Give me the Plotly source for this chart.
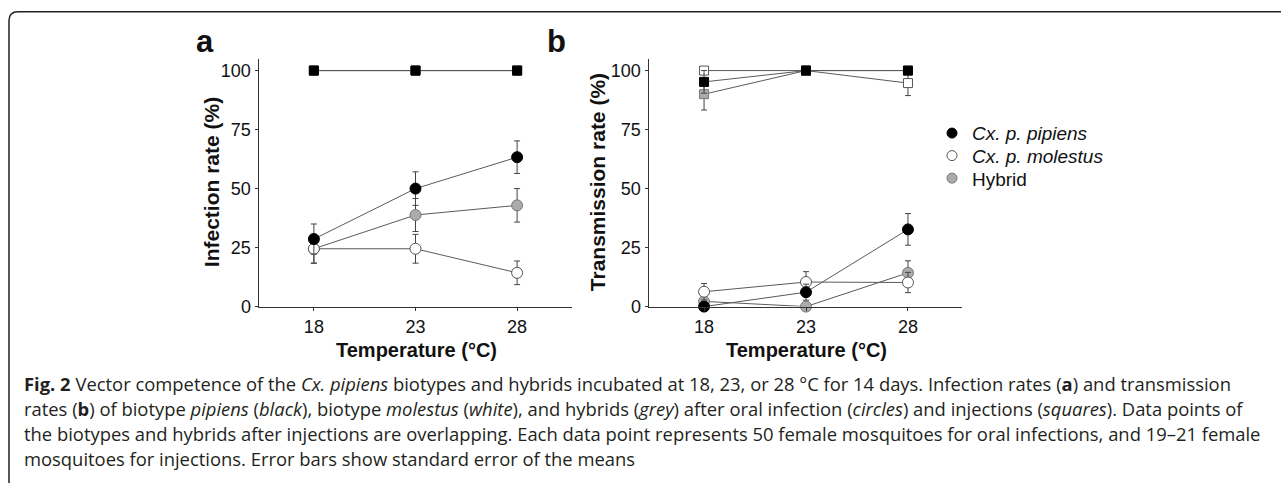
import plotly.graph_objects as go

W, H = 1281, 488

temps = [18, 23, 28]

# Panel a: infection rate (%)
a_inj_pip = [100, 100, 100]
a_inj_mol = [100, 100, 100]
a_inj_hyb = [100, 100, 100]
a_oral_pip = [28.6, 50.0, 63.3]
a_oral_pip_err = [6.4, 7.1, 6.9]
a_oral_mol = [24.5, 24.5, 14.3]
a_oral_mol_err = [6.1, 6.1, 5.0]
a_oral_hyb = [24.5, 38.8, 42.9]
a_oral_hyb_err = [6.1, 7.0, 7.1]

# Panel b: transmission rate (%)
b_inj_pip = [95.2, 100, 100]
b_inj_pip_err = [4.8, 0, 0]
b_inj_mol = [100, 100, 94.7]
b_inj_mol_err = [0, 0, 5.3]
b_inj_hyb = [90.0, 100, 100]
b_inj_hyb_err = [6.7, 0, 0]
b_oral_pip = [0, 6.1, 32.7]
b_oral_pip_err = [0, 3.4, 6.7]
b_oral_mol = [6.3, 10.4, 10.2]
b_oral_mol_err = [3.5, 4.4, 4.3]
b_oral_hyb = [2.2, 0.0, 14.3]
b_oral_hyb_err = [2.2, 0.0, 5.1]

legend_names = ["<i>Cx. p. pipiens</i>", "<i>Cx. p. molestus</i>", "Hybrid"]
x_ticks = ["18", "23", "28"]
y_ticks = [0, 25, 50, 75, 100]

STY = {
    "pip": dict(color="#000000", line=dict(color="#000000", width=1)),
    "mol": dict(color="#ffffff", line=dict(color="#555555", width=1)),
    "hyb": dict(color="#ababab", line=dict(color="#777777", width=1)),
}

LINE = dict(color="#5a5a5a", width=1)
FONT = "Liberation Sans, Arial, sans-serif"


def px(x):
    return x / W


def py(y):
    return 1 - y / H


fig = go.Figure()


def add(y, err, kind, symbol, xa, ya, size):
    ed = None
    if err is not None:
        ed = dict(type="data", array=err, visible=True, color="#444444",
                  thickness=1, width=3)
    fig.add_trace(go.Scatter(
        x=temps, y=y, mode="lines+markers", xaxis=xa, yaxis=ya,
        line=LINE, error_y=ed, cliponaxis=False, showlegend=False,
        hoverinfo="skip",
        marker=dict(symbol=symbol, size=size, **STY[kind])))


SQ, CI = 9, 11
# panel a
add(a_inj_hyb, None, "hyb", "square", "x", "y", SQ)
add(a_inj_mol, None, "mol", "square", "x", "y", SQ)
add(a_inj_pip, None, "pip", "square", "x", "y", SQ)
add(a_oral_hyb, a_oral_hyb_err, "hyb", "circle", "x", "y", CI)
add(a_oral_mol, a_oral_mol_err, "mol", "circle", "x", "y", CI)
add(a_oral_pip, a_oral_pip_err, "pip", "circle", "x", "y", CI)
# panel b
add(b_inj_hyb, b_inj_hyb_err, "hyb", "square", "x2", "y2", SQ)
add(b_inj_mol, b_inj_mol_err, "mol", "square", "x2", "y2", SQ)
add(b_inj_pip, b_inj_pip_err, "pip", "square", "x2", "y2", SQ)
add(b_oral_hyb, b_oral_hyb_err, "hyb", "circle", "x2", "y2", CI)
add(b_oral_mol, b_oral_mol_err, "mol", "circle", "x2", "y2", CI)
add(b_oral_pip, b_oral_pip_err, "pip", "circle", "x2", "y2", CI)

# legend-only traces, each in its own legend box
legend_rows = [136, 159, 182]
leg_layout = {}
for i, (name, kind) in enumerate(zip(legend_names, ["pip", "mol", "hyb"])):
    lg = "legend" if i == 0 else f"legend{i + 1}"
    fig.add_trace(go.Scatter(
        x=[None], y=[None], mode="markers", name=name, xaxis="x2", yaxis="y2",
        legend=lg, marker=dict(symbol="circle", size=10, **STY[kind]),
        showlegend=True))
    leg_layout[lg] = dict(
        x=px(932), y=py(legend_rows[i]), xanchor="left", yanchor="middle",
        font=dict(family=FONT, size=19, color="#111111"), itemwidth=30,
        bgcolor="rgba(0,0,0,0)", borderwidth=0, itemclick=False,
        itemdoubleclick=False)

axis_common = dict(
    showgrid=False, zeroline=False, showline=True, linecolor="#333333",
    linewidth=1.5, ticks="outside", ticklen=3, tickcolor="#333333",
    tickfont=dict(family=FONT, size=18, color="#111111"),
)

fig.update_layout(
    width=W, height=H,
    margin=dict(l=0, r=0, t=0, b=0),
    paper_bgcolor="white", plot_bgcolor="white",
    font=dict(family=FONT, color="#111111"),
    xaxis=dict(domain=[px(259), px(572)], range=[15.3, 30.7],
               tickvals=temps, ticktext=x_ticks, anchor="y",
               ticklabelstandoff=0, **axis_common),
    yaxis=dict(domain=[py(313), py(60)], range=[0, 105], tickvals=y_ticks,
               anchor="x", **axis_common),
    xaxis2=dict(domain=[px(649), px(962)], range=[15.3, 30.65],
                tickvals=temps, ticktext=x_ticks, anchor="y2",
                ticklabelstandoff=0, **axis_common),
    yaxis2=dict(domain=[py(313), py(60)], range=[0, 105], tickvals=y_ticks,
                anchor="x2", **axis_common),
    **leg_layout,
)

ann = []


def text(x, y, s, size, bold=False, angle=0, family=FONT, xanchor="center",
         color="#111111"):
    ann.append(dict(x=px(x), y=py(y), xref="paper", yref="paper",
                    text=f"<b>{s}</b>" if bold else s, showarrow=False,
                    textangle=angle, xanchor=xanchor, yanchor="middle",
                    font=dict(family=family, size=size, color=color)))


text(205, 42, "a", 31, bold=True)
text(556, 42, "b", 31, bold=True)
text(211, 186, "Infection rate (%)", 21, bold=True, angle=-90)
text(597, 186, "Transmission rate (%)", 21, bold=True, angle=-90)
text(417, 357, "Temperature (°C)", 20, bold=True)
text(806, 357, "Temperature (°C)", 20, bold=True)

CAP = "Open Sans, sans-serif"
caption = [
    "<b>Fig. 2</b> Vector competence of the <i>Cx. pipiens</i> biotypes and hybrids incubated at 18, 23, or 28 °C for 14 days. Infection rates (<b>a</b>) and transmission",
    "rates (<b>b</b>) of biotype <i>pipiens</i> (<i>black</i>), biotype <i>molestus</i> (<i>white</i>), and hybrids (<i>grey</i>) after oral infection (<i>circles</i>) and injections (<i>squares</i>). Data points of",
    "the biotypes and hybrids after injections are overlapping. Each data point represents 50 female mosquitoes for oral infections, and 19–21 female",
    "mosquitoes for injections. Error bars show standard error of the means",
]
for i, line in enumerate(caption):
    text(22, 392 + i * 25.5, line, 18.4, family=CAP, xanchor="left", color="#231f20")

fig.update_layout(annotations=ann)

# rounded frame (top & left)
r = 9
path = (f"M {px(9)},{py(H + 5)} L {px(9)},{py(12 + r)} "
        f"Q {px(9)},{py(12)} {px(9 + r)},{py(12)} L {px(W + 5)},{py(12)}")
fig.add_shape(type="path", path=path, xref="paper", yref="paper",
              line=dict(color="#222222", width=1.5))

fig.write_html(
    "out.html",
    config={"displayModeBar": False, "staticPlot": True},
    post_script=(
        "document.documentElement.style.margin='0';"
        "document.body.style.margin='0';"
        "document.body.style.overflow='hidden';"
    ),
)
